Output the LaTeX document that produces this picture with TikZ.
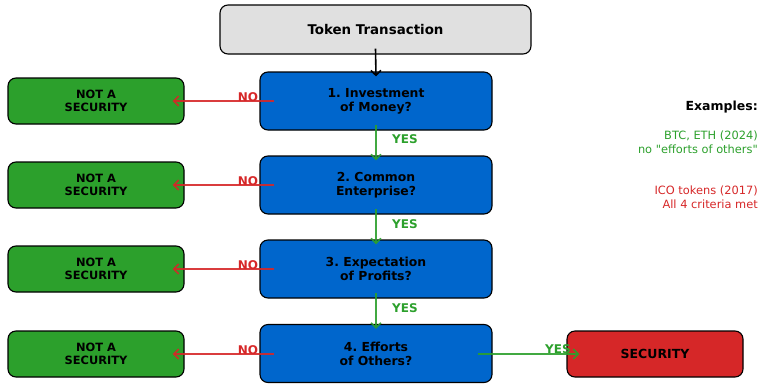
\documentclass[tikz,border=0pt]{standalone}
\usepackage{fontspec}
\setmainfont{DejaVu Sans}
\usetikzlibrary{arrows.meta}
\definecolor{qblue}{HTML}{0066CC}
\definecolor{okgreen}{HTML}{2CA02C}
\definecolor{secred}{HTML}{D62728}
\definecolor{startgray}{HTML}{E0E0E0}
\begin{document}
\frenchspacing
\begin{tikzpicture}[x=1pt,y=-1pt,>={Straight Barb[length=5pt,width=10pt]}]
            \tikzstyle{every node}+=[inner sep=0pt, align=center]
            \tikzstyle{box}=[draw=black, line width=1.1pt, rounded corners=8pt]
            \tikzstyle{question}=[box, fill=qblue, minimum width=232pt, minimum height=58pt, font=\bfseries\fontsize{12.4}{14}\selectfont]
            \tikzstyle{notsec}=[box, fill=okgreen, minimum width=176pt, minimum height=46pt, font=\bfseries\fontsize{11.4}{13}\selectfont]
            \tikzstyle{nolabel}=[text=secred, font=\bfseries\fontsize{12}{14}\selectfont]
            \tikzstyle{yeslabel}=[text=okgreen, font=\bfseries\fontsize{12}{14}\selectfont]
            \tikzstyle{noarrow}=[->, draw=secred, opacity=0.9, line width=1.6pt]
            \tikzstyle{yesarrow}=[->, draw=okgreen, opacity=0.9, line width=1.6pt]
            \useasboundingbox (0,0) rectangle (759,383);
            \node [box, fill=startgray, minimum width=311pt, minimum height=49pt, font=\bfseries\fontsize{13.4}{15}\selectfont] (tok) at (375.5,29.5) {Token Transaction};
            \node [question] (q1) at (376,101) {1. Investment\\of Money?};
            \node [question] (q2) at (376,185) {2. Common\\Enterprise?};
            \node [question] (q3) at (376,269) {3. Expectation\\of Profits?};
            \node [question] (q4) at (376,353.5) {4. Efforts\\of Others?};
            \node [notsec] (n1) at (96,101) {NOT A\\SECURITY};
            \node [notsec] (n2) at (96,185) {NOT A\\SECURITY};
            \node [notsec] (n3) at (96,269) {NOT A\\SECURITY};
            \node [notsec] (n4) at (96,354) {NOT A\\SECURITY};
            \node [box, fill=secred, minimum width=176pt, minimum height=46pt, font=\bfseries\fontsize{12.5}{14}\selectfont] (sec) at (655,354) {SECURITY};
            \draw [->, line width=1.6pt] ([yshift=6pt]tok.south) -- ([yshift=-5pt]q1.north);
            \draw [yesarrow] ([yshift=6pt]q1.south) -- ([yshift=-5pt]q2.north);
            \draw [yesarrow] ([yshift=6pt]q2.south) -- ([yshift=-5pt]q3.north);
            \draw [yesarrow] ([yshift=6pt]q3.south) -- ([yshift=-5pt]q4.north);
            \node [yeslabel] (y1) at (405,139) {YES};
            \node [yeslabel] (y2) at (405,224) {YES};
            \node [yeslabel] (y3) at (405,308) {YES};
            \node [nolabel] (no1) at (248,97) {NO};
            \node [nolabel] (no2) at (248,181) {NO};
            \node [nolabel] (no3) at (248,265) {NO};
            \node [nolabel] (no4) at (248,350) {NO};
            \draw [noarrow] ([xshift=15pt]q1.west) -- ([xshift=-12pt]n1.east);
            \draw [noarrow] ([xshift=15pt]q2.west) -- ([xshift=-12pt]n2.east);
            \draw [noarrow] ([xshift=15pt]q3.west) -- ([xshift=-12pt]n3.east);
            \draw [noarrow] ([xshift=15pt,yshift=-0.5pt]q4.west) -- ([xshift=-12pt]n4.east);
            \node [yeslabel] (y4) at (558,349) {YES};
            \draw [yesarrow] ([xshift=-15pt,yshift=-0.5pt]q4.east) -- ([xshift=13pt]sec.west);
            \node [anchor=east, font=\bfseries\fontsize{12.5}{14}\selectfont] (ex) at (758,107) {Examples:};
            \node [anchor=east, align=right, text=okgreen, font=\fontsize{11.4}{14}\selectfont] (ex1) at (758,142) {BTC, ETH (2024)\\no \textquotedbl efforts of others\textquotedbl};
            \node [anchor=east, align=right, text=secred, font=\fontsize{11.4}{14}\selectfont] (ex2) at (758,197) {ICO tokens (2017)\\All 4 criteria met};
        \end{tikzpicture}
\end{document}
